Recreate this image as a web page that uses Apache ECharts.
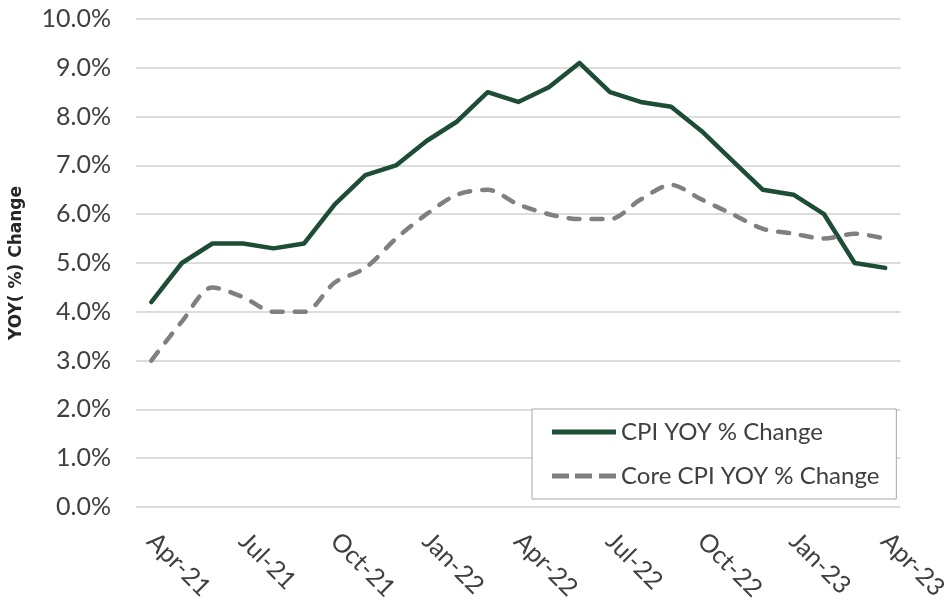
<!DOCTYPE html>
<html>
<head>
<meta charset="utf-8">
<title>CPI YOY % Change</title>
<script src="https://cdn.jsdelivr.net/npm/echarts@6/dist/echarts.min.js"></script>
<style>
  html, body { margin: 0; padding: 0; background: #fff; }
  #chart { width: 951px; height: 605px; }
</style>
</head>
<body>
<div id="chart"></div>
<script>
// months Apr-21 .. Apr-23
const months = ['Apr-21', 'May-21', 'Jun-21', 'Jul-21', 'Aug-21', 'Sep-21', 'Oct-21', 'Nov-21', 'Dec-21',
  'Jan-22', 'Feb-22', 'Mar-22', 'Apr-22', 'May-22', 'Jun-22', 'Jul-22', 'Aug-22', 'Sep-22', 'Oct-22',
  'Nov-22', 'Dec-22', 'Jan-23', 'Feb-23', 'Mar-23', 'Apr-23'];
const cpi = [4.2, 5.0, 5.4, 5.4, 5.3, 5.4, 6.2, 6.8, 7.0, 7.5, 7.9, 8.5, 8.3, 8.6, 9.1, 8.5, 8.3, 8.2, 7.7,
  7.1, 6.5, 6.4, 6.0, 5.0, 4.9];
const coreCpi = [3.0, 3.8, 4.5, 4.3, 4.0, 4.0, 4.6, 4.9, 5.5, 6.0, 6.4, 6.5, 6.2, 6.0, 5.9, 5.9, 6.3, 6.6, 6.3,
  6.0, 5.7, 5.6, 5.5, 5.6, 5.5];
const seriesNames = ['CPI YOY % Change', 'Core CPI YOY % Change'];

const font = 'Lato, "Open Sans", sans-serif';
const green = '#1e4d35';
const grey = '#808080';

// legend icons: a solid bar and a three-dash bar
const solidIcon = 'path://M0,0H64V5H0Z';
const dashIcon = 'path://M0,0H17V5H0Z M23,0H40V5H23Z M47,0H64V5H47Z';

const chart = echarts.init(document.getElementById('chart'));
chart.setOption({
  animation: false,
  textStyle: { fontFamily: font },
  grid: { left: 132, right: 46, top: 19, bottom: 98, containLabel: false },
  legend: {
    orient: 'vertical',
    left: 532,
    top: 409,
    padding: [11, 17, 11, 20],
    itemGap: 20,
    itemWidth: 64,
    itemHeight: 5,
    borderColor: '#a6a6a6',
    borderWidth: 1,
    backgroundColor: '#fff',
    textStyle: { fontSize: 24, color: '#404040', fontFamily: font },
    data: [
      { name: seriesNames[0], icon: solidIcon },
      { name: seriesNames[1], icon: dashIcon }
    ]
  },
  xAxis: {
    type: 'category',
    data: months,
    boundaryGap: true,
    axisLine: { show: false },
    axisTick: { show: false },
    axisLabel: {
      interval: 2,
      rotate: -45,
      margin: 30,
      fontSize: 25,
      color: '#404040'
    }
  },
  yAxis: {
    type: 'value',
    min: 0,
    max: 10,
    interval: 1,
    name: 'YOY( %) Change',
    nameLocation: 'middle',
    nameGap: 111,
    nameTextStyle: { fontSize: 17, fontWeight: 'bold', color: '#262626', fontFamily: '"DejaVu Sans", sans-serif' },
    axisLabel: {
      margin: 25,
      fontSize: 25,
      color: '#404040',
      formatter: v => v.toFixed(1) + '%'
    },
    splitLine: { lineStyle: { color: '#d0d0d0', width: 1.5 } }
  },
  series: [
    {
      name: seriesNames[0],
      type: 'line',
      data: cpi,
      symbol: 'none',
      lineStyle: { color: green, width: 4.5, cap: 'round', join: 'round' },
      itemStyle: { color: green }
    },
    {
      name: seriesNames[1],
      type: 'line',
      data: coreCpi,
      symbol: 'none',
      smooth: 0.3,
      lineStyle: { color: grey, width: 4.5, type: [11, 12], cap: 'round', join: 'round' },
      itemStyle: { color: grey }
    }
  ]
});
</script>
</body>
</html>
